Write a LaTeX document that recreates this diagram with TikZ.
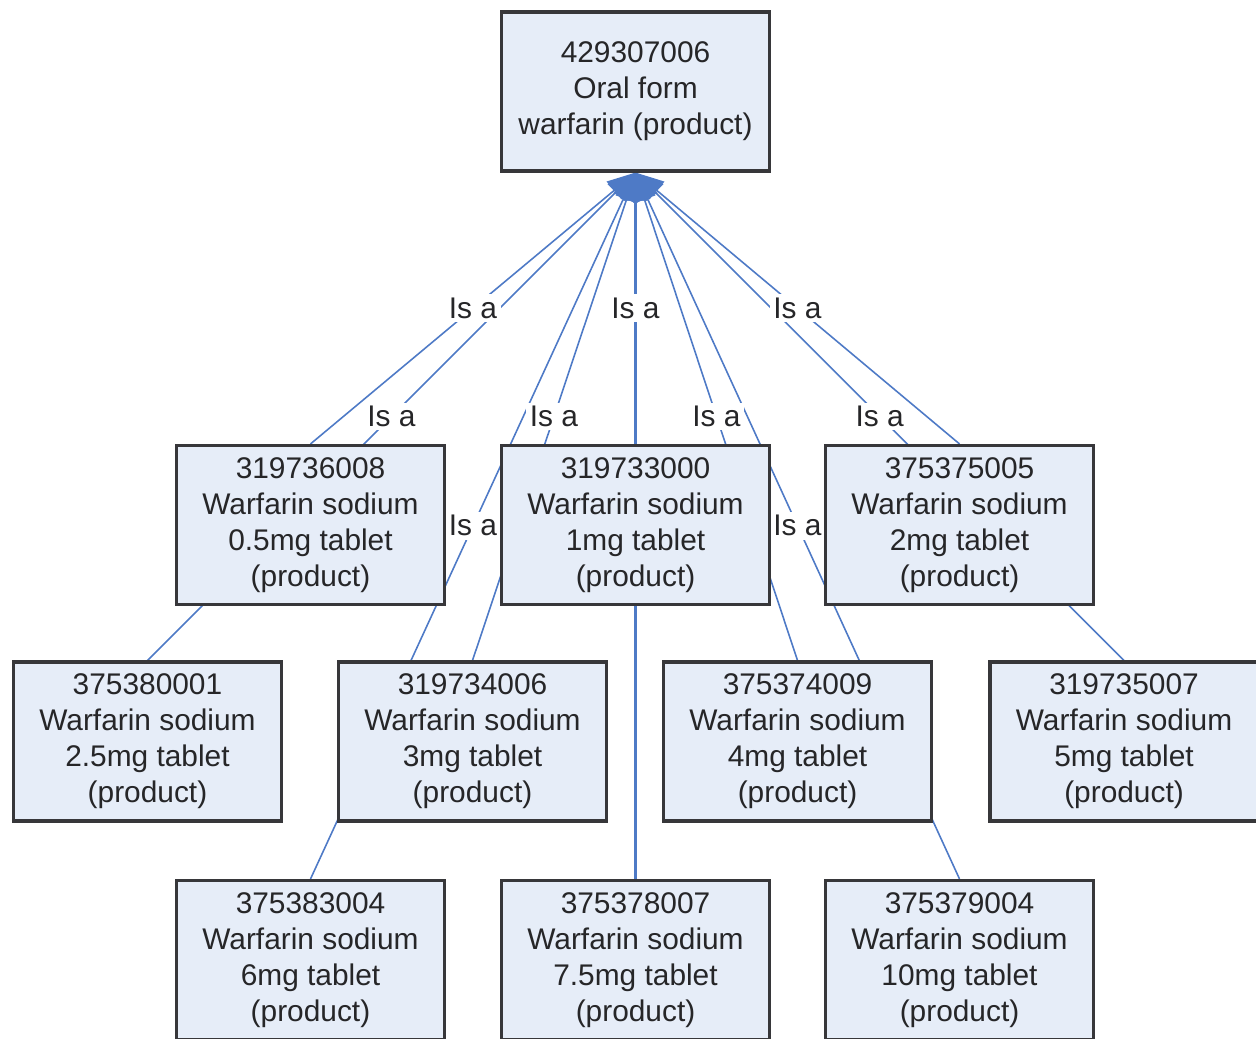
\documentclass[tikz,border=0pt]{standalone}
\usepackage{fontspec}
\setmainfont{Liberation Sans}
\usepackage{tikz}
\usetikzlibrary{
    arrows.meta,
    backgrounds
}
\definecolor{ink}{RGB}{38,38,40}
\definecolor{boxedge}{RGB}{55,55,58}
\definecolor{boxfill}{RGB}{230,237,248}
\definecolor{isablue}{RGB}{78,122,198}
\tikzset{
    line cap=round,
    line join=round,
    concept/.style={
        rectangle,
        draw=boxedge,
        line width=1.8pt,
        fill=boxfill,
        text=ink,
        minimum width=5.36cm,
        minimum height=3.18cm,
        align=center,
        inner sep=2pt,
        font=\fontsize{17}{20.5}\selectfont
    },
    isa/.style={
        -{Triangle[length=0.56cm, width=0.46cm]},
        draw=isablue,
        fill=isablue,
        line width=0.9pt
    },
    isastraight/.style={
        isa,
        line width=1.8pt
    },
    isalabel/.style={
        fill=white,
        text=ink,
        inner sep=2pt,
        font=\fontsize{17}{20.5}\selectfont
    }
}

\begin{document}
\begin{tikzpicture}[x=0.02cm, y=-0.02cm]

\useasboundingbox (0,0) rectangle (1256,1038);

% Parent concept
\node[concept] (oral) at (635.5, 91.5) {429307006\\Oral form\\warfarin (product)};

% First row
\node[concept] (tab05) at (310.5, 525) {319736008\\Warfarin sodium\\0.5mg tablet\\(product)};
\node[concept] (tab1) at (635.5, 525) {319733000\\Warfarin sodium\\1mg tablet\\(product)};
\node[concept] (tab2) at (959.5, 525) {375375005\\Warfarin sodium\\2mg tablet\\(product)};

% Second row
\node[concept] (tab25) at (147.5, 741.5) {375380001\\Warfarin sodium\\2.5mg tablet\\(product)};
\node[concept] (tab3) at (472.5, 741.5) {319734006\\Warfarin sodium\\3mg tablet\\(product)};
\node[concept] (tab4) at (797.5, 741.5) {375374009\\Warfarin sodium\\4mg tablet\\(product)};
\node[concept] (tab5) at (1124, 741.5) {319735007\\Warfarin sodium\\5mg tablet\\(product)};

% Third row
\node[concept] (tab6) at (310.5, 960) {375383004\\Warfarin sodium\\6mg tablet\\(product)};
\node[concept] (tab75) at (635.5, 960) {375378007\\Warfarin sodium\\7.5mg tablet\\(product)};
\node[concept] (tab10) at (959.5, 960) {375379004\\Warfarin sodium\\10mg tablet\\(product)};

% Is-a relations, behind the boxes
\begin{scope}[on background layer]
\draw[isastraight] (tab75.north) -- (oral.south);
\draw[isa] (tab6.north) -- node[isalabel] {Is a} (oral.south);
\draw[isa] (tab10.north) -- node[isalabel] {Is a} (oral.south);
\draw[isa] (tab25.north) -- node[isalabel] {Is a} (oral.south);
\draw[isa] (tab3.north) -- node[isalabel] {Is a} (oral.south);
\draw[isa] (tab4.north) -- node[isalabel] {Is a} (oral.south);
\draw[isa] (tab5.north) -- node[isalabel] {Is a} (oral.south);
\draw[isa] (tab05.north) -- node[isalabel] {Is a} (oral.south);
\draw[isastraight] (tab1.north) -- node[isalabel] {Is a} (oral.south);
\draw[isa] (tab2.north) -- node[isalabel] {Is a} (oral.south);
\end{scope}

\end{tikzpicture}
\end{document}
